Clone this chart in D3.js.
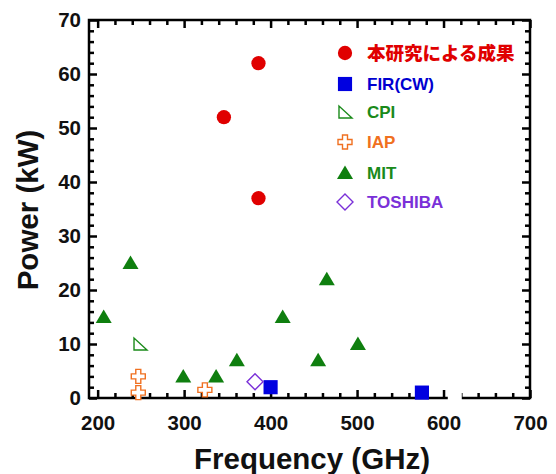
<!DOCTYPE html>
<html>
<head>
<meta charset="utf-8">
<script src="https://cdn.jsdelivr.net/npm/d3@7"></script>
<style>
  body { margin: 0; background: #fff; }
  text { font-family: "Liberation Sans", Arial, sans-serif; font-weight: bold; }
</style>
</head>
<body>
<svg id="chart" width="556" height="474"></svg>
<script>
// series data [GHz, kW]
var ourWork = [[386, 62], [346, 52], [386, 37]];
var firCW = [[400, 2], [575, 1]];
var cpi = [[249, 10]];
var iap = [[247, 4], [247, 1], [324, 1.5]];
var mit = [[207, 15], [238, 25], [299, 4], [337, 4], [361, 7], [414, 15], [455, 7], [465, 22], [501, 10]];
var toshiba = [[382, 3]];
var blank = [[613, 0]]; // white marker sitting on the x axis

var legendNames = ["本研究による成果", "FIR(CW)", "CPI", "IAP", "MIT", "TOSHIBA"];
var xTicks = [200, 300, 400, 500, 600, 700];
var yTicks = [0, 10, 20, 30, 40, 50, 60, 70];

var svg = d3.select("#chart");
var pLeft = 89, pRight = 530, pTop = 20, pBottom = 398;

var x = d3.scaleLinear().domain([190, 700]).range([pLeft, pRight]);
var y = d3.scaleLinear().domain([0, 70]).range([pBottom, pTop]);

var xMinor = d3.range(200, 701, 20).filter(function(v) { return v % 100 != 0; });
var yMinor = d3.range(0, 71, 2).filter(function(v) { return v % 10 != 0; });

// frame and inward ticks
var axisW = 2.5;
function tickAxis(axis, ticks, size, pad) {
  return axis.tickValues(ticks).tickSizeInner(-size).tickSizeOuter(0)
    .tickPadding(pad).tickFormat(pad ? d3.format("d") : "");
}
function drawAxis(mk, scale, transform, pad) {
  var g1 = svg.append("g").attr("transform", transform)
    .call(tickAxis(mk(scale), scale === x ? xMinor : yMinor, 5, 0));
  var g2 = svg.append("g").attr("transform", transform)
    .call(tickAxis(mk(scale), scale === x ? xTicks : yTicks, 8, pad));
  [g1, g2].forEach(function(g) {
    g.selectAll("line").attr("stroke", "#000").attr("stroke-width", axisW);
    g.select(".domain").remove();
    g.selectAll("text").attr("fill", "#111").style("font-size", "20.5px").style("font-weight", "bold")
      .style("font-family", "'Liberation Sans', Arial, sans-serif");
  });
  return g2;
}
drawAxis(d3.axisBottom, x, "translate(0," + pBottom + ")", 17);
drawAxis(d3.axisTop, x, "translate(0," + pTop + ")", 0);
drawAxis(d3.axisLeft, y, "translate(" + pLeft + ",0)", 8);
drawAxis(d3.axisRight, y, "translate(" + pRight + ",0)", 0);

svg.append("rect")
  .attr("x", pLeft).attr("y", pTop)
  .attr("width", pRight - pLeft).attr("height", pBottom - pTop)
  .attr("fill", "none").attr("stroke", "#000").attr("stroke-width", axisW);

// axis titles
svg.append("text")
  .attr("x", 312).attr("y", 469)
  .attr("text-anchor", "middle")
  .style("font-size", "29.5px").attr("fill", "#111")
  .text("Frequency (GHz)");
svg.append("text")
  .attr("transform", "translate(38,210) rotate(-90)")
  .attr("text-anchor", "middle")
  .style("font-size", "29.5px").attr("fill", "#111")
  .text("Power (kW)");

// marker shapes
var crossPath = "M-2.5,-7H2.5V-2.5H7V2.5H2.5V7H-2.5V2.5H-7V-2.5H-2.5Z";
var rightTri = "M-6,-6L-6,6L7,6Z";
var styles = [
  {data: ourWork, d: d3.symbol(d3.symbolCircle, 160)(), fill: "#e00000", stroke: "none", color: "#e00000"},
  {data: firCW, d: d3.symbol(d3.symbolSquare, 200)(), fill: "#0000e0", stroke: "none", color: "#0000d0"},
  {data: cpi, d: rightTri, fill: "#fff", stroke: "#1a8a1a", color: "#1a8a1a"},
  {data: iap, d: crossPath, fill: "#fff", stroke: "#f07020", color: "#f07020"},
  {data: mit, d: "M0,-7.5L8,6L-8,6Z", fill: "#0f7f0f", stroke: "none", color: "#1a8a1a"},
  {data: toshiba, d: "M0,-8L8,0L0,8L-8,0Z", fill: "#fff", stroke: "#7a30d8", color: "#7a30d8"}
];

// white marker covering the axis
svg.selectAll(".blank").data(blank).enter().append("rect")
  .attr("x", function(d) { return x(d[0]) - 7; })
  .attr("y", function(d) { return y(d[1]) - 7; })
  .attr("width", 14).attr("height", 9)
  .attr("fill", "#fff");

styles.forEach(function(s) {
  svg.append("g").selectAll("path").data(s.data).enter().append("path")
    .attr("transform", function(d) { return "translate(" + x(d[0]) + "," + y(d[1]) + ")"; })
    .attr("d", s.d)
    .attr("fill", s.fill)
    .attr("stroke", s.stroke)
    .attr("stroke-width", 1.4);
});

// legend
var legendY = [53, 84, 112, 142, 173, 202];
var leg = svg.append("g");
styles.forEach(function(s, i) {
  leg.append("path")
    .attr("transform", "translate(345," + legendY[i] + ")")
    .attr("d", s.d)
    .attr("fill", s.fill)
    .attr("stroke", s.stroke)
    .attr("stroke-width", 1.4);
  leg.append("text")
    .attr("x", 367).attr("y", legendY[i])
    .attr("dy", "0.36em")
    .attr("fill", s.color)
    .style("font-size", i == 0 ? "18.5px" : "17px")
    .style("font-family", i == 0 ? "'Noto Sans CJK JP', sans-serif" : "'Liberation Sans', Arial, sans-serif")
    .style("font-weight", i == 0 ? "900" : "bold")
    .text(legendNames[i]);
});
</script>
</body>
</html>
